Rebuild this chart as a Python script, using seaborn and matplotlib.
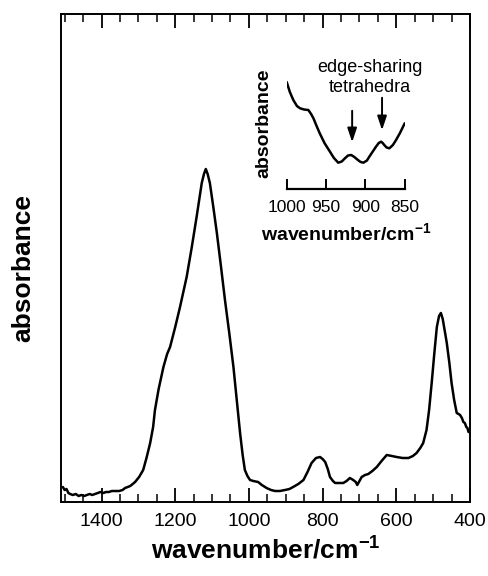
import numpy as np
import pandas as pd
import seaborn as sns
import matplotlib.pyplot as plt
from matplotlib.ticker import MultipleLocator

# main spectrum (wavenumber in cm-1, absorbance in arb. units)
wavenumber = [1505, 1500, 1495, 1490, 1485, 1478, 1470, 1462, 1455, 1447, 1440, 1432,
              1425, 1418, 1410, 1403, 1395, 1388, 1380, 1372, 1363, 1352, 1343, 1336,
              1322, 1309, 1298, 1287, 1278, 1268, 1260, 1255, 1245, 1232, 1222, 1214,
              1200, 1187, 1178, 1169, 1155, 1142, 1135, 1128, 1122, 1117, 1112, 1106,
              1097, 1087, 1076, 1065, 1053, 1042, 1033, 1024, 1017, 1011, 1004, 997,
              988, 975, 965, 952, 940, 929, 916, 902, 890, 880, 866, 852, 841, 830,
              818, 807, 800, 793, 786, 780, 772, 766, 755, 744, 735, 726, 717, 710,
              706, 700, 694, 685, 676, 665, 653, 640, 626, 612, 599, 583, 567, 555,
              545, 535, 527, 518, 511, 504, 497, 490, 484, 479, 474, 468, 463, 456,
              450, 443, 436, 431, 427, 422, 418, 414, 410, 407, 404]
absorbance = [15, 12, 13, 9, 8, 7, 8, 6, 7, 6, 7, 8,
              7, 8, 9, 10, 9, 10, 10, 11, 11, 11, 12, 14,
              16, 20, 25, 32, 44, 59, 75, 92, 113, 135, 148, 155,
              175, 195, 210, 225, 255, 285, 302, 319, 328, 333, 328, 319,
              296, 269, 236, 202, 168, 135, 102, 69, 47, 32, 26, 22,
              21, 20, 17, 14, 12, 11, 11, 12, 13, 15, 18, 22, 30, 39,
              44, 45, 43, 40, 33, 25, 21, 19, 19, 19, 21, 24, 22, 20,
              17, 21, 25, 27, 28, 31, 35, 41, 47, 46, 45, 44, 44, 46,
              49, 54, 59, 72, 92, 119, 148, 175, 186, 189, 183, 170, 159, 139,
              119, 102, 89, 88, 87, 84, 80, 79, 75, 74, 70]

# inset: zoom on the 1000-850 cm-1 region
inset_wavenumber = [1000, 996, 991.6, 987, 983, 978, 972.5, 969, 966, 962, 958, 952,
                    945, 940, 934.5, 930, 926, 922, 918, 914, 909.5, 906, 902.5, 898,
                    895, 891, 886.5, 883, 880, 878, 876, 873, 869.5, 865, 861, 856, 850]
inset_absorbance = [107, 97, 89, 83, 80.7, 79.5, 79, 75, 70.7, 63, 55.7, 46,
                    37.3, 31, 26.3, 27.5, 30.7, 33.5, 34, 32, 29, 27, 26.3, 28.5,
                    32.3, 37, 42.3, 46, 47.3, 46, 44, 41.5, 40.7, 44, 49, 56, 65.7]

# arrows marking the edge-sharing tetrahedra bands (x, arrow tail, arrow head)
arrow_x = [916.8, 878.8]
arrow_tail = [81, 94]
arrow_head = [44, 56]

main_ticks = [1400, 1200, 1000, 800, 600, 400]
inset_ticks = [1000, 950, 900, 850]

sns.set_theme(style='ticks')
plt.rcParams['font.family'] = ['Liberation Sans', 'DejaVu Sans']
plt.rcParams['mathtext.fontset'] = 'custom'
plt.rcParams['mathtext.rm'] = 'Liberation Sans'
plt.rcParams['mathtext.bf'] = 'Liberation Sans:bold'
plt.rcParams['axes.linewidth'] = 1.4

df = pd.DataFrame({'wavenumber': wavenumber, 'absorbance': absorbance})
df_in = pd.DataFrame({'wavenumber': inset_wavenumber, 'absorbance': inset_absorbance})

fig = plt.figure(figsize=(4.88, 5.76), dpi=100)
W, H = 488, 576
ax = fig.add_axes([61 / W, (H - 502) / H, 409 / W, 488 / H])

sns.lineplot(data=df, x='wavenumber', y='absorbance', ax=ax, color='black',
             lw=1.8, sort=False, estimator=None)
ax.set_xlim(1510, 400)
ax.set_ylim(0, 488)
ax.set_xticks(main_ticks)
ax.xaxis.set_minor_locator(MultipleLocator(50))
ax.set_yticks([])
ax.tick_params(axis='x', which='both', direction='in', top=True, bottom=True,
               labelsize=14, pad=8, color='black', labelcolor='black')
ax.tick_params(axis='x', which='major', length=10, width=1.3)
ax.tick_params(axis='x', which='minor', length=6, width=1.1)
for s in ax.spines.values():
    s.set_color('black')
ax.set_xlabel(r'wavenumber/cm$^{\mathbf{-1}}$', fontsize=19, fontweight='bold',
              labelpad=4, color='black')
ax.set_ylabel('absorbance', fontsize=19, fontweight='bold', color='black')
ax.yaxis.set_label_coords(-0.062, 0.48)

# inset
axi = fig.add_axes([286.7 / W, (H - 189) / H, 118 / W, 114 / H])
axi.patch.set_alpha(0)
sns.lineplot(data=df_in, x='wavenumber', y='absorbance', ax=axi, color='black',
             lw=1.8, sort=False, estimator=None)
axi.set_xlim(1000, 850)
axi.set_ylim(0, 114)
axi.set_xticks(inset_ticks)
axi.set_yticks([])
for side in ['left', 'right', 'top']:
    axi.spines[side].set_visible(False)
axi.spines['bottom'].set_color('black')
axi.spines['bottom'].set_linewidth(1.6)
axi.tick_params(axis='x', direction='in', length=7, width=1.4, labelsize=12.5,
                pad=8, color='black', labelcolor='black')
axi.set_xlabel(r'wavenumber/cm$^{\mathbf{-1}}$', fontsize=14, fontweight='bold',
               labelpad=5, color='black')
axi.set_ylabel('absorbance', fontsize=14, fontweight='bold', color='black')
axi.yaxis.set_label_coords(-0.12, 0.58)

for x, t, h in zip(arrow_x, arrow_tail, arrow_head):
    axi.annotate('', xy=(x, h), xytext=(x, t), annotation_clip=False,
                 arrowprops=dict(arrowstyle='-|>,head_length=0.6,head_width=0.2',
                                 color='black', lw=1.4, mutation_scale=14))
axi.text(894.4, 121, 'edge-sharing', ha='center', va='center', fontsize=13,
         color='black')
axi.text(894.4, 101.3, 'tetrahedra', ha='center', va='center', fontsize=13,
         color='black')

fig.savefig('out.png', dpi=100)
